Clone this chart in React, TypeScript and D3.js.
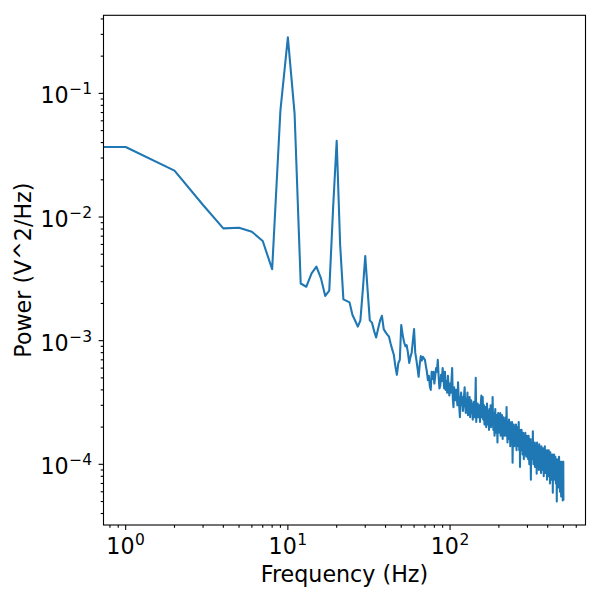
import React, { useEffect, useRef } from 'react';
import * as d3 from 'd3';

// Welch PSD, one bin per Hz, values in units of 1e-6 V^2/Hz
// 0..60 Hz
const psdLow = [
  36800, 36800, 23700, 12500, 8100, 8200, 7600, 6400, 3780, 73300,
  284000, 69000, 2900, 2730, 3500, 3970, 3190, 2300, 2540, 11700,
  41400, 6000, 2160, 2100, 2040, 1620, 1450, 1300, 1460, 2600,
  4840, 2600, 1460, 1400, 1200, 1060, 1250, 1450, 1590, 1240,
  1170, 1120, 1080, 950, 850, 770, 620, 530, 660, 700,
  1340, 1120, 980, 900, 920, 800, 660, 740, 800, 1000,
  1240,
];
// 61..200 Hz
const psdMid = [
  800, 700, 600, 510, 640, 750, 690, 740, 720, 700,
  620, 560, 480, 520, 430, 400, 560, 490, 560, 450,
  520, 600, 560, 700, 520, 410, 430, 530, 470, 600,
  520, 410, 560, 400, 470, 380, 520, 420, 360, 450,
  380, 470, 600, 340, 290, 420, 360, 330, 400, 350,
  300, 460, 340, 290, 240, 330, 380, 300, 350, 270,
  320, 360, 420, 300, 260, 340, 290, 380, 250, 310,
  280, 350, 240, 300, 330, 260, 310, 230, 280, 320,
  270, 240, 300, 500, 220, 290, 260, 310, 240, 280,
  250, 300, 220, 270, 320, 360, 240, 280, 350, 230,
  260, 300, 210, 270, 240, 290, 200, 250, 310, 230,
  210, 270, 240, 190, 280, 220, 250, 300, 200, 240,
  270, 210, 350, 230, 190, 260, 220, 170, 240, 280,
  200, 230, 180, 250, 210, 150, 230, 260, 190, 220,
];
// 201..500 Hz
const psdHigh = [
  240, 180, 210, 260, 170, 200, 230, 190, 250, 210,
  160, 220, 240, 180, 200, 230, 170, 210, 190, 240,
  200, 170, 290, 210, 180, 150, 220, 190, 170, 210,
  230, 160, 190, 220, 140, 200, 180, 210, 160, 190,
  220, 170, 103, 180, 200, 160, 210, 180, 140, 190,
  170, 200, 150, 180, 210, 160, 130, 190, 170, 150,
  200, 160, 180, 140, 220, 170, 130, 160, 190, 95,
  170, 150, 180, 140, 160, 190, 130, 150, 170, 120,
  160, 180, 140, 150, 110, 170, 140, 160, 120, 150,
  180, 130, 145, 160, 115, 150, 170, 130, 140, 120,
  160, 135, 110, 150, 170, 125, 140, 100, 150, 130,
  160, 120, 140, 110, 75, 130, 150, 115, 140, 125,
  160, 110, 145, 185, 120, 135, 100, 150, 125, 140,
  110, 130, 150, 95, 135, 120, 145, 105, 130, 115,
  140, 84, 125, 150, 110, 130, 95, 140, 120, 105,
  135, 115, 90, 130, 145, 110, 125, 95, 135, 115,
  100, 130, 120, 85, 125, 140, 105, 120, 95, 130,
  110, 125, 90, 115, 135, 100, 120, 80, 115, 130,
  105, 120, 95, 140, 110, 85, 120, 105, 130, 95,
  115, 125, 90, 110, 120, 75, 115, 130, 100, 110,
  90, 125, 105, 80, 115, 130, 95, 110, 85, 120,
  100, 115, 70, 105, 125, 95, 110, 85, 120, 100,
  90, 115, 105, 75, 110, 95, 120, 85, 100, 59,
  105, 115, 90, 100, 80, 110, 95, 120, 85, 100,
  110, 75, 95, 105, 85, 115, 90, 100, 70, 105,
  95, 110, 80, 100, 50, 95, 110, 85, 100, 75,
  105, 90, 110, 80, 95, 65, 100, 90, 105, 115,
  85, 95, 70, 100, 90, 60, 95, 105, 80, 95,
  70, 100, 85, 55, 95, 105, 80, 90, 100, 65,
  95, 85, 100, 75, 51, 90, 105, 80, 105, 52,
];

const xMajor = [1, 10, 100];
const xMajorExp = ['0', '1', '2'];
const yMajor = [1e-1, 1e-2, 1e-3, 1e-4];
const yMajorExp = ['\u22121', '\u22122', '\u22123', '\u22124'];

const xLabel = 'Frequency (Hz)';
const yLabel = 'Power (V^2/Hz)';

const FONT = '"DejaVu Sans", sans-serif';
const FS = 22.2;
const FS_SUP = 15.5;

export default function App() {
  const svgRef = useRef<SVGSVGElement>(null);

  useEffect(() => {
    if (!svgRef.current) return;
    const svg = d3.select(svgRef.current);
    svg.selectAll('*').remove();

    const left = 103.5, right = 585.5, top = 15.3, bottom = 525;

    const psd = [...psdLow, ...psdMid, ...psdHigh].map((v) => v * 1e-6);
    const data = psd.map((v, i) => ({ f: i, p: v }));

    const x = d3.scaleLog().domain([0.73, 684]).range([left, right]);
    const y = d3.scaleLog().domain([3.23e-5, 0.428]).range([bottom, top]);

    svg.append('defs').append('clipPath').attr('id', 'plot-clip')
      .append('rect')
      .attr('x', left).attr('y', top)
      .attr('width', right - left).attr('height', bottom - top);

    // f = 0 is not on a log axis; run it off the left edge like matplotlib
    const line = d3.line<{ f: number; p: number }>()
      .x((d) => (d.f > 0 ? x(d.f) : left - 50))
      .y((d) => y(d.p));

    svg.append('path')
      .datum(data)
      .attr('clip-path', 'url(#plot-clip)')
      .attr('fill', 'none')
      .attr('stroke', '#1f77b4')
      .attr('stroke-width', 2.08)
      .attr('stroke-linejoin', 'round')
      .attr('stroke-linecap', 'square')
      .attr('d', line);

    // minor ticks
    const [xd0, xd1] = x.domain();
    const xMinor: number[] = [];
    for (let e = -1; e <= 3; e++) {
      for (let m = 2; m <= 9; m++) {
        const v = m * Math.pow(10, e);
        if (v >= xd0 && v <= xd1) xMinor.push(v);
      }
    }
    const [yd0, yd1] = y.domain();
    const yMinor: number[] = [];
    for (let e = -5; e <= 0; e++) {
      for (let m = 2; m <= 9; m++) {
        const v = m * Math.pow(10, e);
        if (v >= yd0 && v <= yd1) yMinor.push(v);
      }
    }

    const ticks = svg.append('g').attr('stroke', '#000').attr('stroke-width', 1.1);
    xMinor.forEach((v) => {
      ticks.append('line').attr('x1', x(v)).attr('x2', x(v))
        .attr('y1', bottom).attr('y2', bottom + 2.8);
    });
    xMajor.forEach((v) => {
      ticks.append('line').attr('x1', x(v)).attr('x2', x(v))
        .attr('y1', bottom).attr('y2', bottom + 4.9);
    });
    yMinor.forEach((v) => {
      ticks.append('line').attr('y1', y(v)).attr('y2', y(v))
        .attr('x1', left).attr('x2', left - 2.8);
    });
    yMajor.forEach((v) => {
      ticks.append('line').attr('y1', y(v)).attr('y2', y(v))
        .attr('x1', left).attr('x2', left - 4.9);
    });

    // tick labels
    xMajor.forEach((v, i) => {
      const t = svg.append('text')
        .attr('x', x(v)).attr('y', 554)
        .attr('text-anchor', 'middle')
        .attr('font-family', FONT).attr('font-size', FS).attr('fill', '#000');
      t.append('tspan').text('10');
      t.append('tspan').attr('dx', 0.5).attr('dy', -9).attr('font-size', FS_SUP).text(xMajorExp[i]);
    });
    yMajor.forEach((v, i) => {
      const t = svg.append('text')
        .attr('x', 92).attr('y', y(v) + 10)
        .attr('text-anchor', 'end')
        .attr('font-family', FONT).attr('font-size', FS).attr('fill', '#000');
      t.append('tspan').text('10');
      t.append('tspan').attr('dx', 0.5).attr('dy', -9).attr('font-size', FS_SUP).text(yMajorExp[i]);
    });

    // spines
    svg.append('rect')
      .attr('x', left).attr('y', top)
      .attr('width', right - left).attr('height', bottom - top)
      .attr('fill', 'none').attr('stroke', '#000').attr('stroke-width', 1.1);

    svg.append('text')
      .attr('x', (left + right) / 2).attr('y', 582)
      .attr('text-anchor', 'middle')
      .attr('font-family', FONT).attr('font-size', FS).attr('fill', '#000')
      .text(xLabel);

    svg.append('text')
      .attr('transform', `translate(31, ${(top + bottom) / 2}) rotate(-90)`)
      .attr('text-anchor', 'middle')
      .attr('font-family', FONT).attr('font-size', FS).attr('fill', '#000')
      .text(yLabel);
  }, []);

  return (
    <svg
      ref={svgRef}
      width={600}
      height={600}
      style={{ position: 'absolute', left: 0, top: 0, background: '#fff' }}
    />
  );
}
